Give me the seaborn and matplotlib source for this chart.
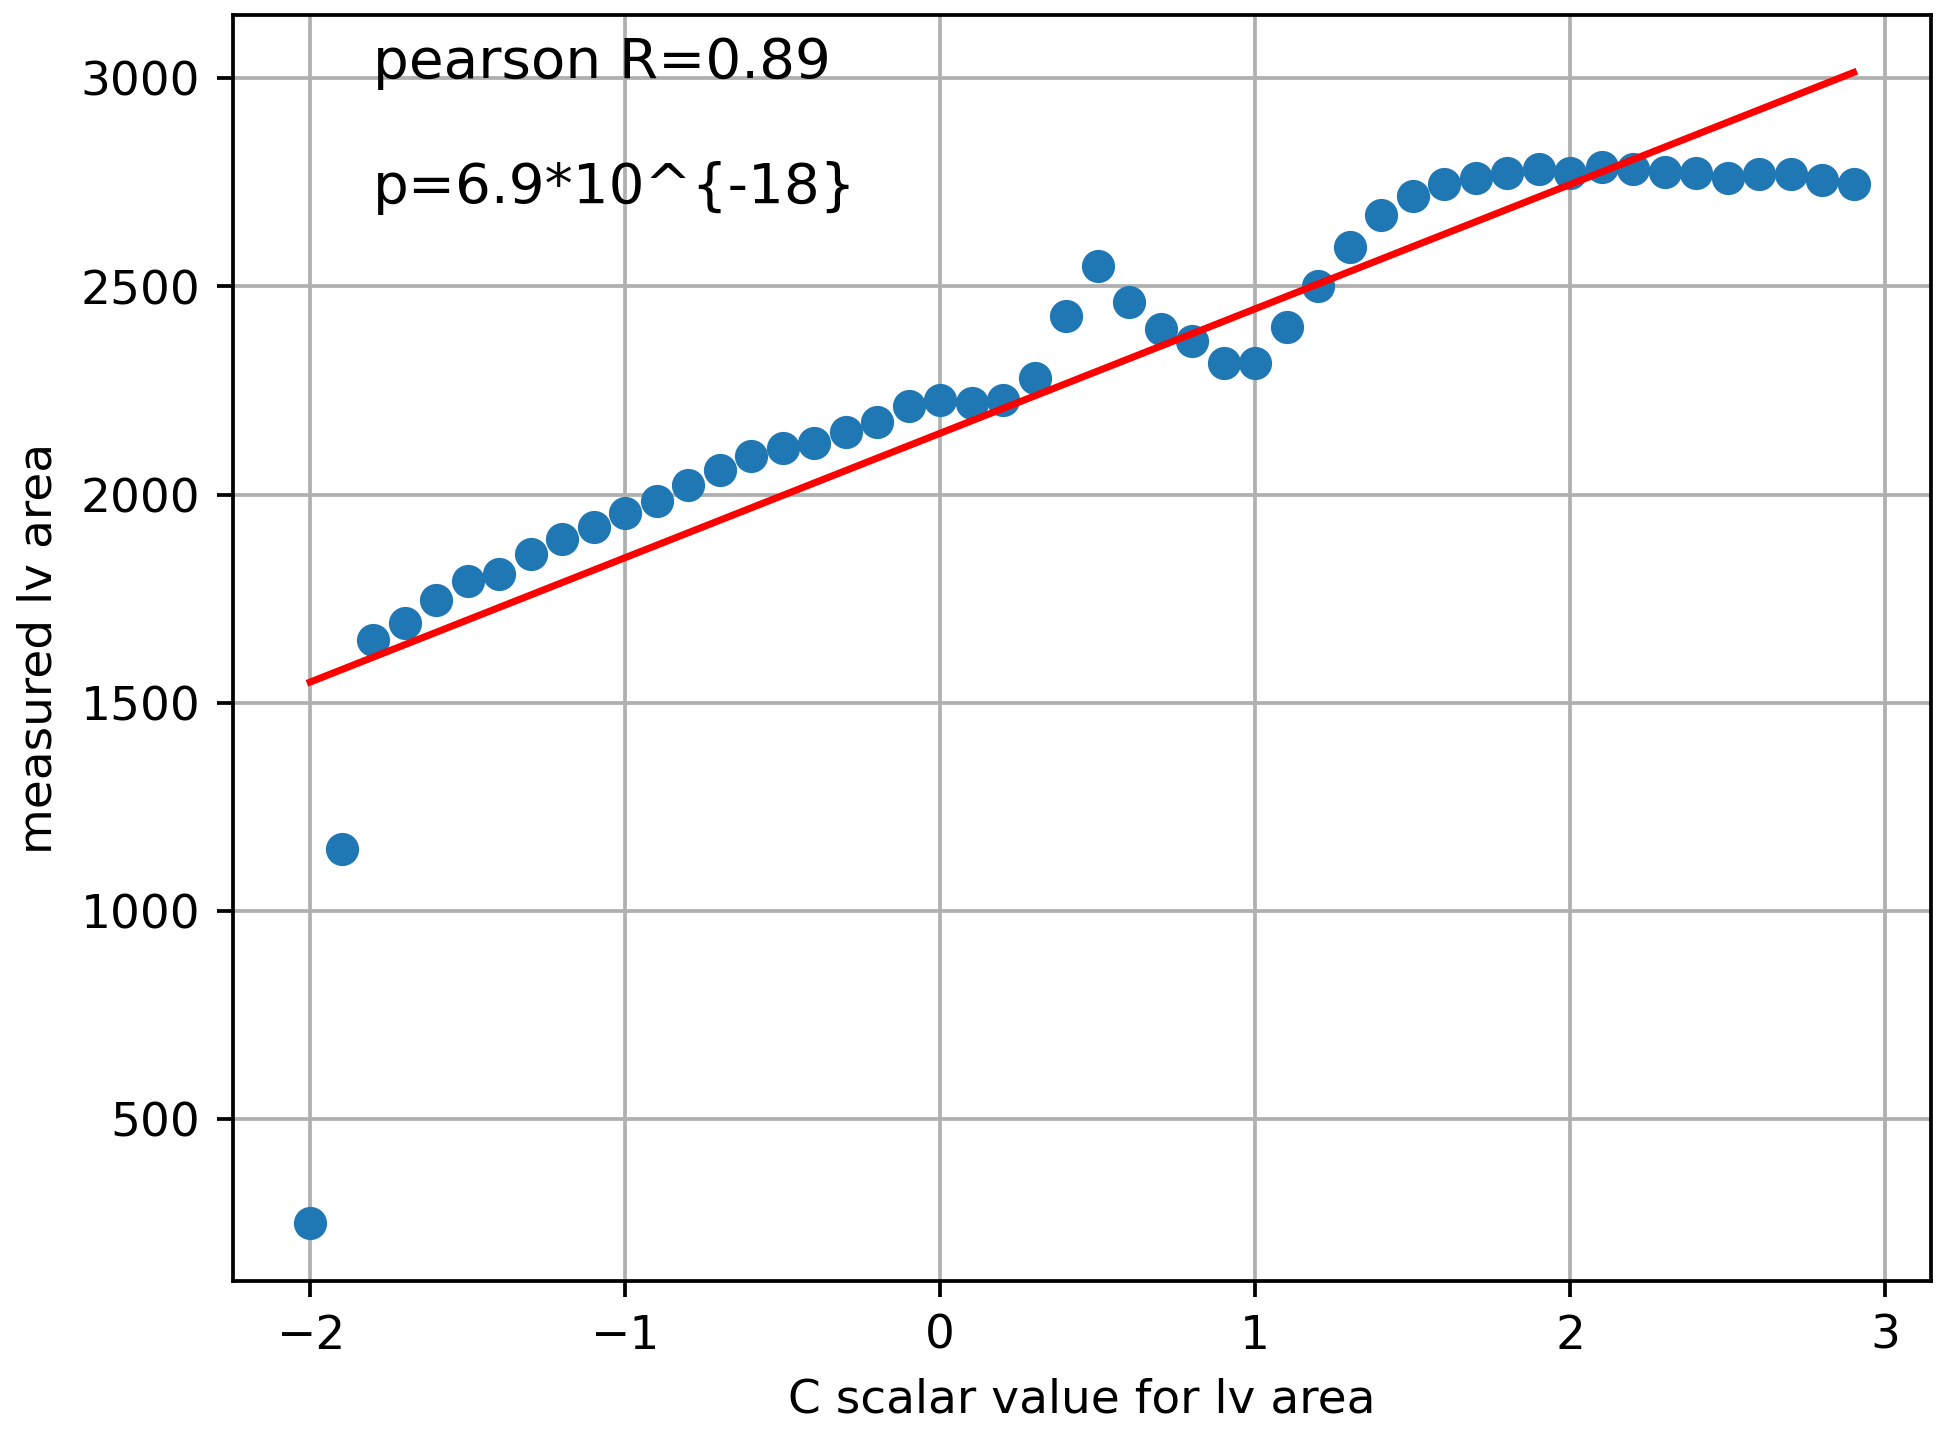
"""
Scatter of measured LV area against the C scalar value, with linear fit
"""
import numpy as np
import pandas as pd
import seaborn as sns
import matplotlib
matplotlib.use("Agg")
import matplotlib.pyplot as plt

# C scalar values (x) and measured lv area (y)
c_scalar = [-2.0, -1.9, -1.8, -1.7, -1.6, -1.5, -1.4, -1.3, -1.2, -1.1,
            -1.0, -0.9, -0.8, -0.7, -0.6, -0.5, -0.4, -0.3, -0.2, -0.1,
            0.0, 0.1, 0.2, 0.3, 0.4, 0.5, 0.6, 0.7, 0.8, 0.9,
            1.0, 1.1, 1.2, 1.3, 1.4, 1.5, 1.6, 1.7, 1.8, 1.9,
            2.0, 2.1, 2.2, 2.3, 2.4, 2.5, 2.6, 2.7, 2.8, 2.9]
lv_area = [250, 1150, 1652, 1693, 1747, 1792, 1810, 1857, 1893, 1923,
           1956, 1986, 2024, 2060, 2093, 2111, 2123, 2150, 2174, 2212,
           2227, 2221, 2227, 2281, 2430, 2550, 2463, 2397, 2368, 2317,
           2317, 2403, 2502, 2594, 2672, 2717, 2746, 2761, 2773, 2782,
           2773, 2788, 2782, 2776, 2773, 2761, 2770, 2770, 2755, 2746]

pearson_text = "pearson R=0.89"
p_text = "p=6.9*10^{-18}"

df = pd.DataFrame({"c": c_scalar, "area": lv_area})

# least squares fit line
slope, intercept = np.polyfit(df["c"], df["area"], 1)
df["fit"] = slope * df["c"] + intercept

fig, ax = plt.subplots(figsize=(5.77, 4.228), dpi=338)
fig.subplots_adjust(left=0.1195, right=0.990, top=0.9895, bottom=0.1036)

sns.scatterplot(data=df, x="c", y="area", color="#1f77b4", s=50,
                linewidth=0, ax=ax, zorder=3)
ax.plot(df["c"], df["fit"], color="red", linewidth=1.5, zorder=4)

ax.text(-1.8, 3000, pearson_text, fontsize=12)
ax.text(-1.8, 2700, p_text, fontsize=12)

ax.set_xlabel("C scalar value for lv area", fontsize=10)
ax.set_ylabel("measured lv area", fontsize=10)
ax.set_xticks([-2, -1, 0, 1, 2, 3])
ax.set_yticks([500, 1000, 1500, 2000, 2500, 3000])
ax.grid(True, color="#b0b0b0", linewidth=0.8)
ax.set_axisbelow(True)

plt.savefig("out.png", dpi=338)
plt.close()
